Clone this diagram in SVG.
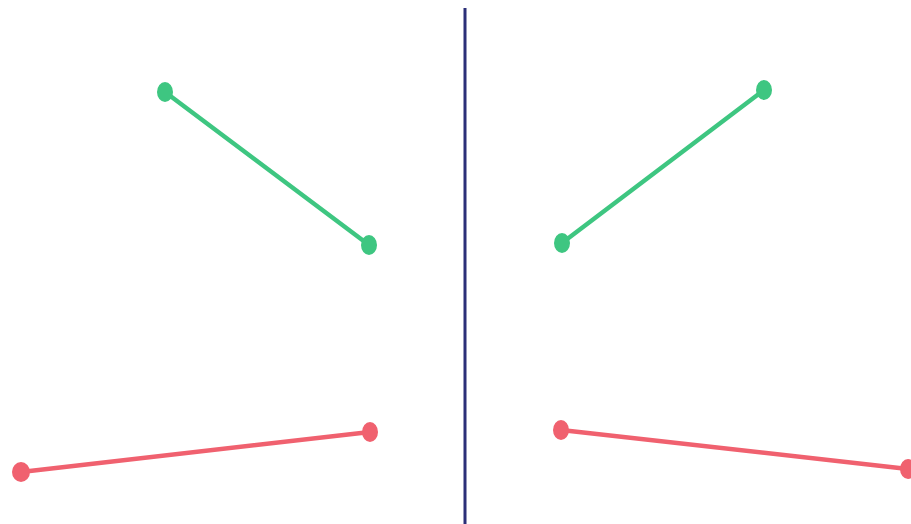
<svg xmlns="http://www.w3.org/2000/svg" width="911" height="524" viewBox="0 0 911 524">
<style>
.g{stroke:#3ec681;stroke-width:4.5;stroke-linecap:round;fill:none}
.gd{fill:#3ec681}
.r{stroke:#f0616f;stroke-width:4.5;stroke-linecap:round;fill:none}
.rd{fill:#f0616f}
</style>
<rect width="911" height="524" fill="#ffffff"/>
<g id="divider"><line x1="465" y1="8" x2="465" y2="524" stroke="#2b2f78" stroke-width="3"/></g>
<g id="connectors">
<line class="g" x1="165" y1="92" x2="369" y2="245"/>
<line class="g" x1="562" y1="243" x2="764" y2="90"/>
<line class="r" x1="21" y1="472" x2="370" y2="432"/>
<line class="r" x1="561" y1="430" x2="908" y2="469"/>
</g>
<g id="left-green-a"><ellipse class="gd" cx="165" cy="92" rx="8" ry="10"/></g>
<g id="left-green-b"><ellipse class="gd" cx="369" cy="245" rx="8" ry="10"/></g>
<g id="right-green-a"><ellipse class="gd" cx="562" cy="243" rx="8" ry="10"/></g>
<g id="right-green-b"><ellipse class="gd" cx="764" cy="90" rx="8" ry="10"/></g>
<g id="left-red-a"><ellipse class="rd" cx="21" cy="472" rx="9" ry="10"/></g>
<g id="left-red-b"><ellipse class="rd" cx="370" cy="432" rx="8" ry="10"/></g>
<g id="right-red-a"><ellipse class="rd" cx="561" cy="430" rx="8" ry="10"/></g>
<g id="right-red-b"><ellipse class="rd" cx="908" cy="469" rx="8" ry="10"/></g>
</svg>
